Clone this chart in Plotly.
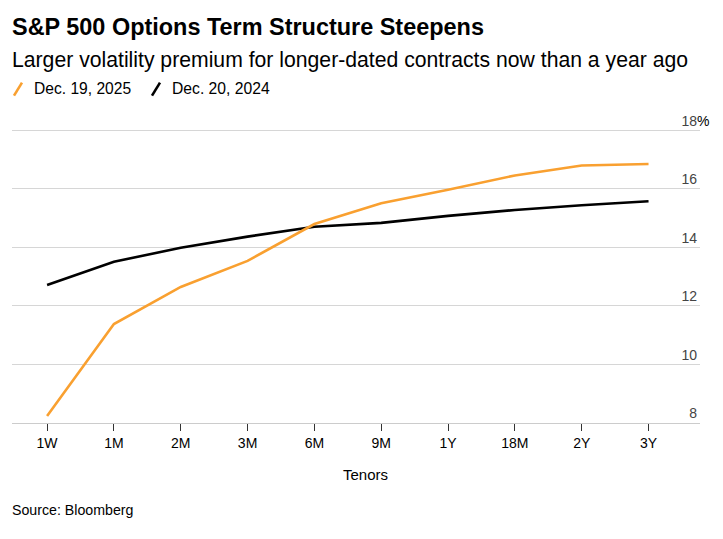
import plotly.graph_objects as go

tenors = ["1W", "1M", "2M", "3M", "6M", "9M", "1Y", "18M", "2Y", "3Y"]
dec_2025 = [8.24, 11.38, 12.65, 13.54, 14.80, 15.51, 15.97, 16.46, 16.80, 16.85]
dec_2024 = [12.72, 13.51, 13.99, 14.37, 14.71, 14.84, 15.08, 15.28, 15.44, 15.58]
y_ticks = [8, 10, 12, 14, 16, 18]
y_tick_text = ["8", "10", "12", "14", "16", "18"]

ORANGE = "#f9a030"
BLACK = "#000000"
FONT = "Liberation Sans"

# page has an 8px body offset; work in figure pixel coords = page - 8
OFF = 8
W, H = 723 - OFF, 539 - OFF
PL, PR = 12 - OFF, 700 - OFF          # plot left/right (figure px)
Y_LO, Y_HI = 8, 18.8
PB = 423 - OFF                         # y=8 position
UNIT = (423 - 130.7) / 10.0            # px per 1 unit
PT = PB - (Y_HI - Y_LO) * UNIT

fig = go.Figure()
fig.add_trace(go.Scatter(x=tenors, y=dec_2024, mode="lines", name="Dec. 20, 2024",
                         line=dict(color=BLACK, width=2.6)))
fig.add_trace(go.Scatter(x=tenors, y=dec_2025, mode="lines", name="Dec. 19, 2025",
                         line=dict(color=ORANGE, width=2.6)))

fig.update_layout(
    width=W, height=H,
    margin=dict(l=PL, r=W - PR, t=PT, b=H - PB, autoexpand=False),
    paper_bgcolor="white", plot_bgcolor="white",
    showlegend=False,
    font=dict(family=FONT, color="#000000", size=13),
    xaxis=dict(
        type="category", range=[-0.525, 9.77],
        showgrid=False, showline=True, linecolor="#cccccc", linewidth=1,
        ticks="outside", ticklen=7, tickcolor="#333333", tickwidth=1,
        tickfont=dict(size=14, family=FONT), zeroline=False,
        automargin=False,
    ),
    yaxis=dict(
        range=[Y_LO, Y_HI], side="right", tickvals=y_ticks, ticktext=y_tick_text,
        ticklabelposition="inside top", showgrid=True, gridcolor="#d6d6d6",
        gridwidth=1, zeroline=False, showline=False, ticks="",
        tickfont=dict(size=14, family=FONT), automargin=False,
    ),
)


def px_x(px):
    return (px - OFF - PL) / (PR - PL)


def px_y(py):
    return (PB - (py - OFF)) / (PB - PT)


def add_text(text, px, py, size, color="#000000", anchor="left"):
    fig.add_annotation(text=text, x=px_x(px), y=px_y(py),
                       xref="paper", yref="paper", xanchor=anchor, yanchor="middle",
                       showarrow=False, font=dict(size=size, family=FONT, color=color))


def add_slash(x0, color):
    fig.add_shape(type="line", xref="paper", yref="paper",
                  x0=px_x(x0), y0=px_y(96), x1=px_x(x0 + 8), y1=px_y(83),
                  line=dict(color=color, width=2.6))


add_text("<b>S&P 500 Options Term Structure Steepens</b>", 10, 27, 23.45)
add_text("Larger volatility premium for longer-dated contracts now than a year ago", 10, 60, 21.2)
add_slash(14, ORANGE)
add_text("Dec. 19, 2025", 32, 89, 15.6)
add_slash(152, BLACK)
add_text("Dec. 20, 2024", 170, 89, 15.7)
add_text("%", 695, 121, 14)
add_text("Tenors", 365, 474, 15, anchor="center")
add_text("Source: Bloomberg", 10, 510, 14.2)

fig.write_html("out.html")
